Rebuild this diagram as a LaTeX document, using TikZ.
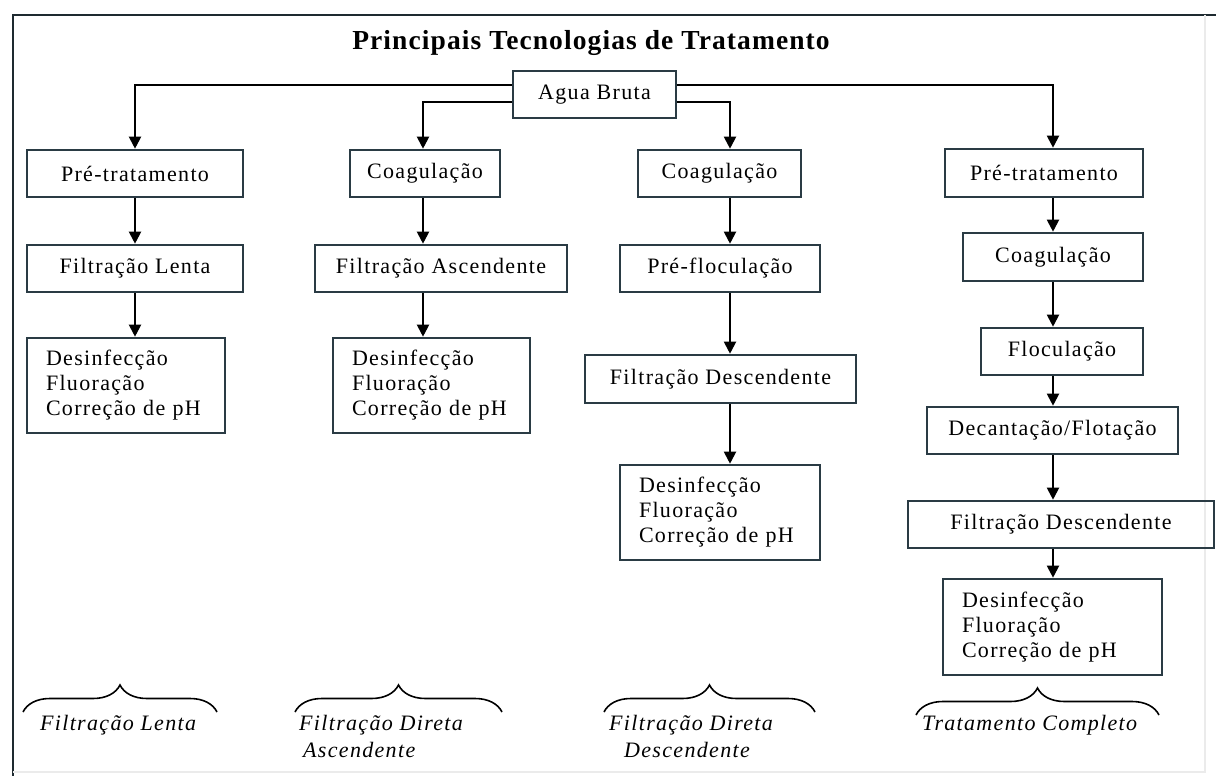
\documentclass[tikz,border=0pt]{standalone}
\usepackage{fontspec}
\setmainfont{Liberation Serif}
\newfontfamily\bxf{Liberation Serif}[LetterSpace=6]
\newfontfamily\tif{Liberation Serif}[LetterSpace=4]
\usetikzlibrary{arrows.meta,decorations.pathreplacing}
\definecolor{bc}{HTML}{2A3B44}
\definecolor{fr}{HTML}{1E2A30}
\begin{document}
\begin{tikzpicture}[x=1pt,y=-1pt,
  box/.style={draw=bc,line width=2.6pt,inner sep=0pt,font=\bxf\fontsize{22}{25}\selectfont,text=black},
  multi/.style={box,align=left},
  arr/.style={line width=2pt,-{Triangle[length=12pt,width=12pt]}},
  br/.style={line width=1.6pt,decorate,decoration={brace,amplitude=27pt}},
  lab/.style={font=\bxf\itshape\fontsize{22}{27}\selectfont,inner sep=0pt,anchor=north west,align=left}]
\useasboundingbox (0,0) rectangle (1216,776);
% frame
\draw[fr,line width=2pt] (1216,15) -- (13,15) -- (13,776);
\draw[black!8,line width=1.5pt] (1205,15) -- (1205,772) -- (13,772);
% title
\node[font=\tif\bfseries\fontsize{27.5}{30}\selectfont] (title) at (591,43) {Principais Tecnologias de Tratamento};
% column axes
\coordinate (x1) at (135,0);
\coordinate (x2) at (423,0);
\coordinate (x3) at (730,0);
\coordinate (x4) at (1053,0);
% root
\node[box,minimum width=163pt,minimum height=47pt] (ab) at (594.5,94.5) {Agua Bruta};
% column 1
\node[box,minimum width=216pt,minimum height=47pt] (c1a) at (135,173.5) {Pré-tratamento};
\node[box,minimum width=216pt,minimum height=47pt] (c1b) at (135,268.5) {Filtração Lenta};
\node[multi,minimum width=198pt,minimum height=95pt,text width=160pt] (c1c) at (126,385.5) {Desinfecção\\Fluoração\\Correção de pH};
% column 2
\node[box,minimum width=150pt,minimum height=47pt] (c2a) at (425,173.5) {Coagulação};
\node[box,minimum width=252pt,minimum height=47pt] (c2b) at (441,268.5) {Filtração Ascendente};
\node[multi,minimum width=197pt,minimum height=95pt,text width=159pt] (c2c) at (431.5,385.5) {Desinfecção\\Fluoração\\Correção de pH};
% column 3
\node[box,minimum width=163pt,minimum height=47pt] (c3a) at (719.5,173.5) {Coagulação};
\node[box,minimum width=200pt,minimum height=47pt] (c3b) at (720,268.5) {Pré-floculação};
\node[box,minimum width=271pt,minimum height=48pt] (c3c) at (720.5,379) {Filtração Descendente};
\node[multi,minimum width=200pt,minimum height=95pt,text width=162pt] (c3d) at (720,512.5) {Desinfecção\\Fluoração\\Correção de pH};
% column 4
\node[box,minimum width=198pt,minimum height=48pt] (c4a) at (1044,173) {Pré-tratamento};
\node[box,minimum width=180pt,minimum height=48pt] (c4b) at (1053,257) {Coagulação};
\node[box,minimum width=162pt,minimum height=47pt] (c4c) at (1062,351.5) {Floculação};
\node[box,minimum width=251pt,minimum height=47pt] (c4d) at (1052.5,430.5) {Decantação/Flotação};
\node[box,minimum width=306pt,minimum height=47pt] (c4e) at (1061,524.5) {Filtração Descendente};
\node[multi,minimum width=219pt,minimum height=96pt,text width=181pt] (c4f) at (1052.5,627) {Desinfecção\\Fluoração\\Correção de pH};
% connectors from root
\draw[arr] ([yshift=9.5pt]ab.west) -| (c1a.north -| x1);
\draw[arr] ([yshift=-7.5pt]ab.west) -| (c2a.north -| x2);
\draw[arr] ([yshift=-7.5pt]ab.east) -| (c3a.north -| x3);
\draw[arr] ([yshift=9.5pt]ab.east) -| (c4a.north -| x4);
% column connectors
\draw[arr] (c1a.south -| x1) -- (c1b.north -| x1);
\draw[arr] (c1b.south -| x1) -- (c1c.north -| x1);
\draw[arr] (c2a.south -| x2) -- (c2b.north -| x2);
\draw[arr] (c2b.south -| x2) -- (c2c.north -| x2);
\draw[arr] (c3a.south -| x3) -- (c3b.north -| x3);
\draw[arr] (c3b.south -| x3) -- (c3c.north -| x3);
\draw[arr] (c3c.south -| x3) -- (c3d.north -| x3);
\draw[arr] (c4a.south -| x4) -- (c4b.north -| x4);
\draw[arr] (c4b.south -| x4) -- (c4c.north -| x4);
\draw[arr] (c4c.south -| x4) -- (c4d.north -| x4);
\draw[arr] (c4d.south -| x4) -- (c4e.north -| x4);
\draw[arr] (c4e.south -| x4) -- (c4f.north -| x4);
% braces
\coordinate (b1l) at (23,712);  \coordinate (b1r) at (217,712);
\coordinate (b2l) at (295,712); \coordinate (b2r) at (502,712);
\coordinate (b3l) at (604,712); \coordinate (b3r) at (815,712);
\coordinate (b4l) at (916,715); \coordinate (b4r) at (1159,715);
\draw[br] (b1l) -- (b1r);
\draw[br] (b2l) -- (b2r);
\draw[br] (b3l) -- (b3r);
\draw[br] (b4l) -- (b4r);
% labels
\node[lab] (l1) at (40,715) {Filtração Lenta};
\node[lab] (l2) at (299,715) {Filtração Direta\\\hspace*{4pt}Ascendente};
\node[lab] (l3) at (609,715) {Filtração Direta\\\hspace*{15pt}Descendente};
\node[lab] (l4) at (922,715) {Tratamento Completo};
\end{tikzpicture}
\end{document}
